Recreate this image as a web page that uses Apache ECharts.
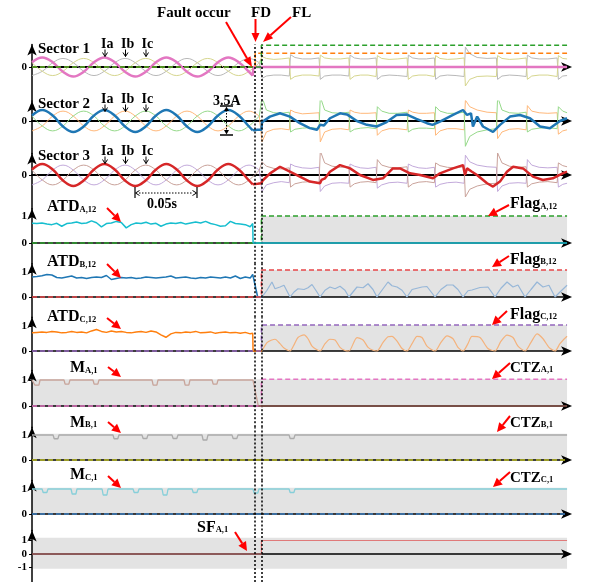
<!DOCTYPE html>
<html><head><meta charset="utf-8">
<script src="https://cdn.jsdelivr.net/npm/echarts@6.0.0/dist/echarts.min.js"></script>
<style>html,body{margin:0;padding:0;background:#fff}#c{width:589px;height:582px}</style>
</head><body><div id="c"></div><script>
// ---------------- DATA (time in ms) ----------------
const FAULT = 178, FD = 180, FL = 185, TEND = 431.5;

const preT = [0,8.3,16.7,25,33.3,41.7,50,58.3,66.7,75,83.3,91.7,100,108.3,116.7,125,133.3,141.7,150,158.3,166.7,175,183.3];
const postT = [185.5,189,195,201,207.5, 208.5,212,218,225,231.5, 232.5,236,242,249,255.5, 256.5,260,265,271,277.5, 278.5,282,288,295,302.5, 303.5,307,312,318,324.5, 325.5,329,335,342,348.5, 349.5,353,359,367,374.5, 375.5,379,385,392,398.5, 399.5,403,409,416,423.5, 424.5,428,431.5];

// Sector 1
const s1IaPre = [0.5,1,0.5,-0.5,-1,-0.5, 0.5,1,0.5,-0.5,-1,-0.5, 0.5,1,0.5,-0.5,-1,-0.5, 0.5,1,0.5,-0.5];
const s1IaTailT = [178, 178.6, 431.5];
const s1IaTailV = [-0.9, 0, 0];
const s1IbPre = [-0.9,-0.45,0.45,0.9,0.45,-0.45, -0.9,-0.45,0.45,0.9,0.45,-0.45, -0.9,-0.45,0.45,0.9,0.45,-0.45, -0.9,-0.45,0.45,0.9,0.45];
const s1IcPre = [0.45,-0.45,-0.9,-0.45,0.45,0.9, 0.45,-0.45,-0.9,-0.45,0.45,0.9, 0.45,-0.45,-0.9,-0.45,0.45,0.9, 0.45,-0.45,-0.9,-0.45,0.45];
const s1IbPost = [-1.2,-0.95,-0.85,-0.85,-0.95, 1.3,1.0,0.85,0.85,0.95, -1.3,-0.95,-0.85,-0.85,-0.95, 1.25,0.95,0.85,0.85,0.95, -1.3,-0.95,-0.85,-0.9,-1.0, 1.25,0.95,0.85,0.85,0.95, -1.3,-0.95,-0.85,-0.9,-1.0, 2.1,1.4,1.0,0.9,0.95, -1.3,-0.95,-0.85,-0.9,-1.0, 1.25,0.95,0.85,0.85,0.95, -1.3,-0.95,-0.9];
const s1IcPost = [1.1,0.9,0.8,0.85,0.95, -1.3,-1.0,-0.85,-0.85,-0.95, 1.25,0.95,0.85,0.85,0.95, -1.3,-0.95,-0.85,-0.85,-1.0, 1.2,0.9,0.8,0.85,0.95, -1.3,-0.95,-0.85,-0.85,-1.0, 1.2,0.9,0.8,0.85,0.95, -2.0,-1.3,-1.0,-0.95,-1.0, 1.2,0.9,0.8,0.85,0.95, -1.3,-0.95,-0.85,-0.85,-1.0, 1.2,0.9,0.85];
const flagFDT = [0, 180, 180, 431.5];
const flagFLT = [0, 185, 185, 431.5];
const s1FlagFDV = [0, 0, 1.45, 1.45];
const s1FlagFLV = [0, 0, 2.3, 2.3];

// Sector 2
const s2IaPre = [0.5,1,0.5,-0.5,-1,-0.5, 0.5,1,0.5,-0.5,-1,-0.5, 0.5,1,0.5,-0.5,-1,-0.5, 0.5,1,0.5,-0.5];
const s2IbPre = [-0.9,-0.45,0.45,0.9,0.45,-0.45, -0.9,-0.45,0.45,0.9,0.45,-0.45, -0.9,-0.45,0.45,0.9,0.45,-0.45, -0.9,-0.45,0.45,0.9,0.45];
const s2IcPre = [0.45,-0.45,-0.9,-0.45,0.45,0.9, 0.45,-0.45,-0.9,-0.45,0.45,0.9, 0.45,-0.45,-0.9,-0.45,0.45,0.9, 0.45,-0.45,-0.9,-0.45,0.45];
const s2IaTailT = [178,182,185,185.5,191.9,200,208,216,224,229.8,232.3,235.5,240.3,248.4,254,262,270,278,286,294,302,310,318.5,323,329,339.5,347.6,350.8,354,355.6,359,363.7,371.8,377.4,385.5,393.5,401.6,409.7,417.7,425.8,431.5];
const s2IaTailV = [-0.85,-0.8,-0.8,-0.1,0.4,0.7,0.4,-0.2,-0.65,-0.8,-0.35,-0.4,0.25,0.7,0.6,0,-0.35,-0.5,-0.1,0.55,0.6,0.2,-0.2,-0.35,-0.05,0.55,1.0,0.55,0.7,-0.5,0.4,-0.5,-1.0,-0.35,0.4,0.55,0.25,-0.5,-0.65,0,0.25];
const s2IbPost = [-1.9,-1.0,-0.75,-0.7,-0.8, 1.0,0.8,0.65,0.7,0.75, -1.9,-1.0,-0.75,-0.7,-0.8, 1.0,0.8,0.7,0.7,0.75, -1.3,-0.9,-0.7,-0.7,-0.8, 1.0,0.8,0.7,0.7,0.75, -1.3,-0.9,-0.7,-0.7,-0.8, 1.9,1.3,1.0,0.8,0.75, -1.6,-1.0,-0.75,-0.7,-0.8, 1.4,0.9,0.75,0.7,0.75, -1.2,-0.9,-0.8];
const s2IcPost = [2.2,1.0,0.75,0.7,0.8, -1.0,-0.75,-0.65,-0.6,-0.7, 2.2,1.0,0.75,0.7,0.8, -1.0,-0.75,-0.65,-0.6,-0.7, 1.3,0.9,0.7,0.7,0.8, -1.0,-0.75,-0.65,-0.65,-0.7, 1.3,0.9,0.7,0.7,0.8, -2.3,-1.4,-1.0,-0.8,-0.7, 2.2,1.0,0.75,0.7,0.8, -1.0,-0.75,-0.65,-0.6,-0.7, 1.3,0.9,0.75];

// Sector 3
const s3IaPre = [0.5,1,0.5,-0.5,-1,-0.5, 0.5,1,0.5,-0.5,-1,-0.5, 0.5,1,0.5,-0.5,-1,-0.5, 0.5,1,0.5,-0.5];
const s3IbPre = [-0.9,-0.45,0.45,0.9,0.45,-0.45, -0.9,-0.45,0.45,0.9,0.45,-0.45, -0.9,-0.45,0.45,0.9,0.45,-0.45, -0.9,-0.45,0.45,0.9,0.45];
const s3IcPre = [0.45,-0.45,-0.9,-0.45,0.45,0.9, 0.45,-0.45,-0.9,-0.45,0.45,0.9, 0.45,-0.45,-0.9,-0.45,0.45,0.9, 0.45,-0.45,-0.9,-0.45,0.45];
const s3IaTailT = [178,182,185,186,192,200,208,216,224,232.3,233.5,236.3,240.3,248.4,256.5,264.5,275,283,291,296.8,304.8,313,323.4,329,339.5,347.6,349.2,350.8,354.8,358.9,367,371.8,377.4,383,388,396,404,412,420,428,431.5];
const s3IaTailV = [-0.85,-0.8,-0.75,-0.5,0.15,0.75,0.3,-0.15,-0.6,-0.75,-0.45,-0.3,0.3,0.9,0.6,0,-0.45,-0.3,0.6,0.6,0.15,0,-0.3,0.15,0.6,0.9,0,0.6,0.3,0,-0.75,-1.05,-0.6,0.3,0.75,0.6,-0.15,-0.45,-0.3,0.15,0.3];
const s3IbPost = [-1.5,-0.9,-0.7,-0.6,-0.7, 1.0,0.8,0.65,0.6,0.7, -1.5,-1.0,-0.75,-0.7,-0.75, 1.0,0.8,0.65,0.6,0.7, -1.2,-0.9,-0.7,-0.65,-0.75, 1.0,0.8,0.65,0.6,0.7, -1.1,-0.85,-0.7,-0.65,-0.75, 1.8,1.2,0.9,0.75,0.7, -1.5,-1.0,-0.75,-0.7,-0.75, 1.4,0.9,0.7,0.65,0.7, -1.1,-0.85,-0.75];
const s3IcPost = [1.2,0.8,0.6,0.55,0.65, -1.1,-0.8,-0.65,-0.6,-0.7, 2.2,1.1,0.8,0.7,0.75, -1.1,-0.8,-0.65,-0.6,-0.7, 1.4,0.9,0.7,0.65,0.75, -1.1,-0.8,-0.65,-0.6,-0.7, 1.1,0.85,0.7,0.65,0.75, -2.0,-1.3,-1.0,-0.8,-0.75, 2.0,1.1,0.8,0.7,0.75, -1.1,-0.8,-0.65,-0.6,-0.7, 1.1,0.85,0.75];

// ATD signals
const tATD = [0,4,8,12,16,20,24,28,32,36,40,44,48,52,56,60,64,68,72,76,80,84,88,92,96,100,104,108,112,116,120,124,128,132,136,140,144,148,152,156,160,164,168,172,176,178];
const atdA = [0.73,0.72,0.74,0.7,0.68,0.73,0.62,0.72,0.74,0.78,0.72,0.74,0.82,0.75,0.6,0.72,0.74,0.8,0.76,0.56,0.68,0.74,0.72,0.77,0.7,0.73,0.62,0.7,0.74,0.72,0.76,0.7,0.74,0.78,0.74,0.8,0.72,0.68,0.62,0.64,0.8,0.72,0.7,0.68,0.6,0.72];
const atdB = [0.8,0.82,0.85,0.9,0.88,0.78,0.76,0.8,0.84,0.76,0.78,0.74,0.78,0.8,0.78,0.86,0.7,0.74,0.78,0.76,0.78,0.74,0.76,0.8,0.78,0.76,0.78,0.8,0.84,0.76,0.78,0.8,0.76,0.74,0.78,0.76,0.8,0.78,0.76,0.8,0.76,0.84,0.74,0.8,0.76,0.9];
const atdC = [0.74,0.76,0.78,0.76,0.8,0.78,0.74,0.76,0.8,0.76,0.78,0.74,0.82,0.88,0.8,0.76,0.82,0.78,0.8,0.76,0.74,0.78,0.8,0.76,0.82,0.78,0.66,0.56,0.7,0.76,0.74,0.78,0.76,0.8,0.74,0.76,0.78,0.72,0.76,0.78,0.74,0.76,0.72,0.76,0.7,0.72];
const atdATailT = [178.3, 431.5], atdATailV = [0, 0];
const atdBTailT = [182, 185.5], atdBTailV = [0, 0];
const atdCTailT = [178.3, 185.5], atdCTailV = [0, 0];
const humpT = [185.5,189.5,193.5,196,200,203.2,208.1,211.3,214.5,219.4,222.6,225.8,229.8,232.3,236.3,240.3,244.4,248.4,252.4,255.6,262.1,267,271,275,278.2,283.1,287.1,290.3,294.4,298.4,302.4,306.5,310.5,314.5,318.5,325,329.8,334.7,339.5,343.5,347.6,351.6,354.8,361.3,367.7,373.4,378.2,383.1,387.9,391.9,397.6,402.4,407.3,412.1,416.9,421.8,425.8,431.5];
const humpB = [0,0.27,0.6,0.33,0.4,0.47,0, 0.2,0.33,0.3,0.37,0.5,0.2,0, 0.27,0.4,0.33,0.43,0.27,0, 0.4,0.37,0.53,0.3,0, 0.33,0.6,0.45,0.4,0.27,0, 0.3,0.35,0.4,0.42,0, 0.3,0.48,0.48,0.3,0, 0.25,0.28,0.38,0.4,0, 0.35,0.6,0.4,0.48,0, 0.3,0.6,0.4,0.47,0, 0.2,0.47];
const humpC = [0,0.34,0.45,0.48,0.3,0.12,0, 0.25,0.55,0.66,0.5,0.2,0.05,0, 0.3,0.48,0.45,0.15,0.02,0, 0.55,0.45,0.15,0.03,0, 0.35,0.58,0.6,0.4,0.1,0, 0.3,0.6,0.55,0.2,0, 0.35,0.62,0.5,0.15,0, 0.3,0.6,0.55,0.1,0, 0.4,0.65,0.55,0.2,0, 0.35,0.7,0.5,0.15,0, 0.3,0.6];
const flagAV = [0, 0, 1, 1];
const flagBV = [0, 0, 1.08, 1.08];
const flagCV = [0, 0, 1.06, 1.06];

// M signals
const mAT = [0,1.5,2.4,5.6,6.5, 25.8,26.7,29.7,30.6, 49.2,50.1,53.1,54, 96.8,97.7,100.7,101.6, 122.6,123.5,126.5,127.4, 145.2,146.1,149.1,150, 178.2,182.5];
const mAV = [1,1,0.8,0.8,1, 1,0.84,0.84,1, 1,0.84,0.84,1, 1,0.8,0.8,1, 1,0.8,0.8,1, 1,0.84,0.84,1, 1,0];
const mAPostT = [182.5, 431.5], mAPostV = [0, 0];
const mAFlagV = [0, 0, 1.03, 1.03];
const mBT = [0,17,17.9,20.9,21.8, 65.3,66.2,69.2,70.1, 88.7,89.6,92.6,93.5, 112.9,113.8,116.8,117.7, 137.1,138,141,141.9, 161.3,162.2,165.2,166.1, 207.3,208.2,211.2,212.1, 431.5];
const mBV = [1,1,0.85,0.85,1, 1,0.85,0.85,1, 1,0.86,0.86,1, 1,0.86,0.86,1, 1,0.8,0.8,1, 1,0.86,0.86,1, 1,0.86,0.86,1, 1];
const mCT = [0, 8.1,9,12,12.9, 31.5,32.4,35.4,36.3, 56.5,57.4,60.4,61.3, 81.5,82.4,85.4,86.3, 104.9,105.8,108.8,109.7, 129.1,130,133,133.9, 178.2,179.1,182.1,183, 207.3,208.2,211.2,212.1, 431.5];
const mCV = [1, 1,0.86,0.86,1, 1,0.8,0.8,1, 1,0.76,0.76,1, 1,0.86,0.86,1, 1,0.76,0.76,1, 1,0.86,0.86,1, 1,0.84,0.84,1, 1,0.86,0.86,1, 1];
const zeroT = [0, 431.5], zeroV = [0, 0];
const sfT = [0, 185, 185, 431.5], sfV = [0, 0, 1, 1];

// shaded regions [t0, t1, v0, v1]
const shadeP4 = [185, 431.5, 0, 1];
const shadeP5 = [185, 431.5, 0, 1.08];
const shadeP6 = [185, 431.5, 0, 1.06];
const shadeP7 = [0, 431.5, 0, 1.03];
const shadeP8 = [0, 431.5, 0, 1.05];
const shadeP9 = [0, 431.5, 0, 1.05];
const shadeP10 = [0, 431.5, -1.1, 1.2];

// tick labels
const ticksI = [0];
const ticks01 = [0, 1];
const ticksSF = [-1, 0, 1];

// ---------------- LAYOUT ----------------
const LEFT = 32, PX_PER_MS = 1.24;
const panels = [
  {top:44.5, bottom:101, zero:67, ppu:9.5, ticks:ticksI, shade:null, axW:2},
  {top:101, bottom:153.5, zero:121, ppu:11, ticks:ticksI, shade:null, axW:2},
  {top:153.5, bottom:208.8, zero:175, ppu:11, ticks:ticksI, shade:null, axW:2},
  {top:208.8, bottom:263.8, zero:243, ppu:27, ticks:ticks01, shade:shadeP4, axW:1.5},
  {top:263.8, bottom:317.2, zero:297, ppu:25, ticks:ticks01, shade:shadeP5, axW:1.5},
  {top:317.2, bottom:370.5, zero:351, ppu:24.5, ticks:ticks01, shade:shadeP6, axW:1.5},
  {top:370.5, bottom:427.2, zero:406, ppu:26, ticks:ticks01, shade:shadeP7, axW:1.5},
  {top:427.2, bottom:480.5, zero:460, ppu:25, ticks:ticks01, shade:shadeP8, axW:1.5},
  {top:480.5, bottom:530.5, zero:514, ppu:25, ticks:ticks01, shade:shadeP9, axW:1.5},
  {top:530.5, bottom:582, zero:554, ppu:13.5, ticks:ticksSF, shade:shadeP10, axW:1.5}
];
const SERIF = '"Liberation Serif","Times New Roman",serif';

const grids = [], xAxes = [], yAxes = [], series = [];
panels.forEach((p, i) => {
  grids.push({left: LEFT, top: p.top, width: TEND * PX_PER_MS, height: p.bottom - p.top});
  xAxes.push({gridIndex:i, type:'value', min:0, max:TEND, z:3,
    axisLine:{show:true, onZero:true, symbol:['none','arrow'], symbolSize:[7,11], symbolOffset:[0,5], lineStyle:{color:'#000', width:p.axW}},
    axisTick:{show:false}, axisLabel:{show:false}, splitLine:{show:false}});
  yAxes.push({gridIndex:i, type:'value', min:-(p.bottom - p.zero)/p.ppu, max:(p.zero - p.top)/p.ppu, z:3,
    axisLine:{show:true, onZero:false, symbol:['none','arrow'], symbolSize:[7,11], lineStyle:{color:'#000', width:1.5}},
    axisTick:{show:true, customValues:p.ticks, length:3, lineStyle:{color:'#000', width:1}},
    axisLabel:{show:true, customValues:p.ticks, margin:5, color:'#000', fontFamily:SERIF, fontWeight:'bold', fontSize:11},
    splitLine:{show:false}});
  const helper = {type:'line', xAxisIndex:i, yAxisIndex:i, data:[], z:1, silent:true, animation:false,
    markLine:{silent:true, symbol:'none', animation:false, label:{show:false}, z:6,
      lineStyle:{color:'#000', type:[2,2], width:1.5}, data:[{xAxis:FD},{xAxis:FL}]}};
  if (p.shade) helper.markArea = {silent:true, animation:false, itemStyle:{color:'#e3e3e3'},
    data:[[{coord:[p.shade[0], p.shade[2]]},{coord:[p.shade[1], p.shade[3]]}]]};
  series.push(helper);
});

const zip = (t, v) => t.map((x, k) => [x, v[k]]);
function ln(gi, data, color, width, extra) {
  const s = {type:'line', xAxisIndex:gi, yAxisIndex:gi, data, showSymbol:false, symbol:'none',
    silent:true, animation:false, z:4, lineStyle:{color, width}};
  return Object.assign(s, extra || {});
}
function dashed(gi, data, color) { return ln(gi, data, color, 1.5, {lineStyle:{color, width:1.5, type:[5,3]}, z:5}); }

// sector panels
const sectors = [
  {gi:0, iaPre:s1IaPre, tailT:s1IaTailT, tailV:s1IaTailV, ibPre:s1IbPre, icPre:s1IcPre, ibPost:s1IbPost, icPost:s1IcPost,
   cA:'#e377c2', cB:'#b9b9b9', cC:'#d6d68e'},
  {gi:1, iaPre:s2IaPre, tailT:s2IaTailT, tailV:s2IaTailV, ibPre:s2IbPre, icPre:s2IcPre, ibPost:s2IbPost, icPost:s2IcPost,
   cA:'#1f77b4', cB:'#ffb87a', cC:'#96d98a'},
  {gi:2, iaPre:s3IaPre, tailT:s3IaTailT, tailV:s3IaTailV, ibPre:s3IbPre, icPre:s3IcPre, ibPost:s3IbPost, icPost:s3IcPost,
   cA:'#d62728', cB:'#c3aadb', cC:'#c9a29a'}
];
sectors.forEach(s => {
  const n = s.ibPre.length - 1;
  series.push(ln(s.gi, zip(preT, s.ibPre), s.cB, 1, {smooth:0.4}));
  series.push(ln(s.gi, [[preT[n], s.ibPre[n]]].concat(zip(postT, s.ibPost)), s.cB, 1));
  series.push(ln(s.gi, zip(preT, s.icPre), s.cC, 1, {smooth:0.4}));
  series.push(ln(s.gi, [[preT[n], s.icPre[n]]].concat(zip(postT, s.icPost)), s.cC, 1));
  series.push(ln(s.gi, zip(preT.slice(0, s.iaPre.length), s.iaPre).concat([[s.tailT[0], s.tailV[0]]]), s.cA, 2.5, {smooth:0.4, z:5}));
  series.push(ln(s.gi, zip(s.tailT, s.tailV), s.cA, 2.5, {z:5}));
});
series.push(dashed(0, zip(flagFDT, s1FlagFDV), '#ff7f0e'));
series.push(dashed(0, zip(flagFLT, s1FlagFLV), '#2ca02c'));

// ATD panels
series.push(dashed(3, zip(flagFLT, flagAV), '#2ca02c'));
series.push(ln(3, zip(tATD, atdA).concat(zip(atdATailT, atdATailV)), '#17becf', 1.5, {z:6}));
series.push(dashed(4, zip(flagFLT, flagBV), '#e8474a'));
series.push(ln(4, zip(tATD, atdB).concat(zip(atdBTailT, atdBTailV)), '#1f77b4', 1.5));
series.push(ln(4, zip(humpT, humpB), '#97b7d8', 1.2));
series.push(dashed(5, zip(flagFLT, flagCV), '#9467bd'));
series.push(ln(5, zip(tATD, atdC).concat(zip(atdCTailT, atdCTailV)), '#ff7f0e', 1.5));
series.push(ln(5, zip(humpT, humpC), '#f4b27c', 1.2, {smooth:0.25}));

// M panels
series.push(dashed(6, zip(flagFLT, mAFlagV), '#e377c2'));
series.push(ln(6, zip(mAT, mAV), '#c8a49a', 1.3));
series.push(ln(6, zip(mAPostT, mAPostV), '#8c564b', 1.5, {z:6}));
series.push(dashed(7, zip(zeroT, zeroV), '#bcbd22'));
series.push(ln(7, zip(mBT, mBV), '#ababab', 1.3));
series.push(dashed(8, zip(zeroT, zeroV), '#3d7fc0'));
series.push(ln(8, zip(mCT, mCV), '#86cfd9', 1.3));

// SF panel
series.push(ln(9, zip(sfT, sfV), '#e07a7a', 1.2));

// ---------------- ANNOTATIONS ----------------
const G = [];
const mctx = document.createElement('canvas').getContext('2d');
function txt(x, baseline, s, size, extra) {
  const font = 'bold ' + size + 'px ' + SERIF;
  G.push(Object.assign({type:'text', x, y: baseline - 0.28 * size, z:20, silent:true,
    style:{text:s, font, fill:'#000', align:'left', textAlign:'left', verticalAlign:'middle', textVerticalAlign:'middle'}}, extra || {}));
  mctx.font = font;
  return mctx.measureText(s).width;
}
function subLabel(x, baseline, main, sub, size, subSize) {
  const w = txt(x, baseline, main, size);
  txt(x + w, baseline + 0.5, sub, subSize);
}
function redArrow(x1, y1, x2, y2, lw, hl, hw) {
  const a = Math.atan2(y2 - y1, x2 - x1);
  const bx = x2 - hl * Math.cos(a), by = y2 - hl * Math.sin(a);
  const px = -Math.sin(a), py = Math.cos(a);
  G.push({type:'line', z:21, silent:true, shape:{x1, y1, x2:bx, y2:by}, style:{stroke:'#ff0000', lineWidth:lw}});
  G.push({type:'polygon', z:21, silent:true, shape:{points:[[x2, y2],[bx + hw*px, by + hw*py],[bx - hw*px, by - hw*py]]}, style:{fill:'#ff0000'}});
}
function downArrow(x, y1, y2) {
  G.push({type:'line', z:21, silent:true, shape:{x1:x, y1, x2:x, y2}, style:{stroke:'#000', lineWidth:1}});
  G.push({type:'polyline', z:21, silent:true, shape:{points:[[x-2.5, y2-4],[x, y2],[x+2.5, y2-4]]}, style:{stroke:'#000', lineWidth:1, fill:null}});
}

// header
txt(157, 17, 'Fault occur', 15);
txt(251, 17, 'FD', 15);
txt(292, 17, 'FL', 15);
redArrow(226, 22, 252, 67, 2, 10, 4);
redArrow(255.5, 19, 255.5, 42, 2, 9, 4);
redArrow(291, 17, 263, 42, 2, 10, 4);

// sector labels
const secBase = [53, 108, 160];
const iBase = [48.5, 103.5, 155.5];
['Sector 1', 'Sector 2', 'Sector 3'].forEach((s, k) => {
  txt(38, secBase[k], s, 15);
  txt(101, iBase[k], 'Ia', 14);
  txt(121, iBase[k], 'Ib', 14);
  txt(141.5, iBase[k], 'Ic', 14);
  downArrow(105, iBase[k] + 1, iBase[k] + 8);
  downArrow(125.5, iBase[k] + 1, iBase[k] + 8);
  downArrow(146, iBase[k] + 1, iBase[k] + 8);
});

// 3.5A dimension
txt(213, 105, '3.5A', 14);
G.push({type:'line', z:21, silent:true, shape:{x1:220, y1:106, x2:233, y2:106}, style:{stroke:'#000', lineWidth:1.5}});
G.push({type:'line', z:21, silent:true, shape:{x1:220, y1:135, x2:233, y2:135}, style:{stroke:'#000', lineWidth:1.5}});
G.push({type:'line', z:21, silent:true, shape:{x1:226.5, y1:110, x2:226.5, y2:131}, style:{stroke:'#000', lineWidth:1, lineDash:[1.5,1.5]}});
G.push({type:'polygon', z:21, silent:true, shape:{points:[[226.5,106.5],[224,111],[229,111]]}, style:{fill:'#000'}});
G.push({type:'polygon', z:21, silent:true, shape:{points:[[226.5,134.5],[224,130],[229,130]]}, style:{fill:'#000'}});

// 0.05s dimension
G.push({type:'line', z:21, silent:true, shape:{x1:135, y1:187, x2:135, y2:198}, style:{stroke:'#000', lineWidth:1.2}});
G.push({type:'line', z:21, silent:true, shape:{x1:197, y1:187, x2:197, y2:198}, style:{stroke:'#000', lineWidth:1.2}});
G.push({type:'line', z:21, silent:true, shape:{x1:139, y1:193, x2:193, y2:193}, style:{stroke:'#000', lineWidth:1, lineDash:[1.5,1.5]}});
G.push({type:'polyline', z:21, silent:true, shape:{points:[[139.5,190.5],[135.5,193],[139.5,195.5]]}, style:{stroke:'#000', lineWidth:1, fill:null}});
G.push({type:'polyline', z:21, silent:true, shape:{points:[[192.5,190.5],[196.5,193],[192.5,195.5]]}, style:{stroke:'#000', lineWidth:1, fill:null}});
txt(147, 208, '0.05s', 14);

// left labels
subLabel(47, 211.5, 'ATD', 'A,12', 16, 8.5);
subLabel(47, 266.5, 'ATD', 'B,12', 16, 8.5);
subLabel(47, 321.5, 'ATD', 'C,12', 16, 8.5);
redArrow(107, 208, 121, 222, 2, 9, 4.5);
redArrow(107, 264, 121, 278, 2, 9, 4.5);
redArrow(107, 318, 121, 329, 2, 9, 4.5);
subLabel(70, 372.5, 'M', 'A,1', 16, 8.5);
subLabel(70, 427, 'M', 'B,1', 16, 8.5);
subLabel(70, 479.5, 'M', 'C,1', 16, 8.5);
redArrow(108, 367, 121, 377, 2, 9, 4.5);
redArrow(108, 422, 121, 433, 2, 9, 4.5);
redArrow(108, 476, 121, 488, 2, 9, 4.5);
subLabel(197, 532, 'SF', 'A,1', 16, 8.5);
redArrow(235, 532, 247, 551, 2, 9, 4.5);

// right labels
subLabel(510, 208.5, 'Flag', 'A,12', 16, 8.5);
subLabel(510, 264, 'Flag', 'B,12', 16, 8.5);
subLabel(510, 319, 'Flag', 'C,12', 16, 8.5);
redArrow(509, 205, 488, 216, 2, 9, 4.5);
redArrow(509, 256, 492, 267, 2, 9, 4.5);
redArrow(507, 311, 492, 325, 2, 9, 4.5);
subLabel(510, 372, 'CTZ', 'A,1', 15, 8.5);
subLabel(510, 427, 'CTZ', 'B,1', 15, 8.5);
subLabel(510, 482, 'CTZ', 'C,1', 15, 8.5);
redArrow(510, 363, 492, 379, 2, 9, 4.5);
redArrow(510, 416, 497, 432, 2, 9, 4.5);
redArrow(510, 472, 493, 487, 2, 9, 4.5);

const chart = echarts.init(document.getElementById('c'), null, {renderer:'canvas'});
chart.setOption({
  animation:false,
  backgroundColor:'#fff',
  grid:grids, xAxis:xAxes, yAxis:yAxes, series,
  graphic:{elements:G}
});
</script></body></html>
